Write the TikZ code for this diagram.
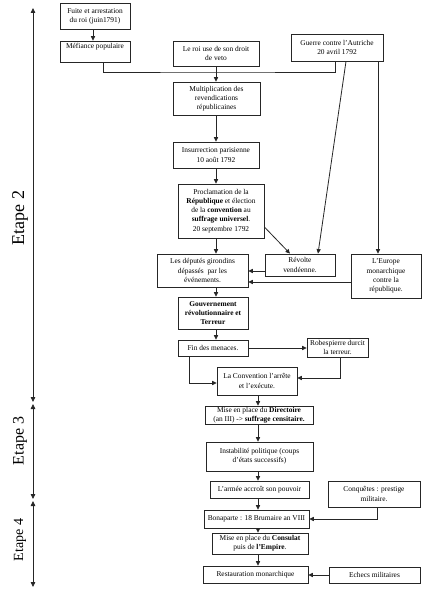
\documentclass[tikz,border=0pt]{standalone}
\usepackage{fontspec}
\setmainfont{Liberation Serif}
\usetikzlibrary{arrows.meta,calc}
\begin{document}
\begin{tikzpicture}[x=1pt,y=-1pt,
  box/.style={draw=black!85, line width=0.8pt, align=center, inner sep=1pt,
    font=\fontsize{7.4}{9.2}\selectfont},
  arr/.style={-{Triangle[length=4.5pt,width=4.2pt]}, line width=0.8pt, draw=black!85},
  ln/.style={line width=0.8pt, draw=black!85},
  axis/.style={{Triangle[length=5pt,width=4.5pt]}-{Triangle[length=5pt,width=4.5pt]}, line width=0.8pt, draw=black!85},
  etape/.style={rotate=90, font=\fontsize{18}{20}\selectfont}]
\useasboundingbox (0,0) rectangle (428,599);
\fill[white] (0,0) rectangle (428,599);

% nodes
\node[box, minimum width=70pt, minimum height=26pt] (fuite) at (95,16) {Fuite et arrestation\\du roi (juin1791)};
\node[box, minimum width=70pt, minimum height=21pt] (mef) at (95,51.5) {Méfiance populaire\\[3pt]\mbox{}};
\node[box, minimum width=86pt, minimum height=25pt] (roi) at (216,53.5) {Le roi use de son droit\\de veto};
\node[box, minimum width=92pt, minimum height=27pt] (guerre) at (337,47.5) {Guerre contre l'Autriche\\20 avril 1792};
\node[box, minimum width=87pt, minimum height=33pt] (mult) at (216.5,98.5) {Multiplication des\\revendications\\républicaines};
\node[box, minimum width=86pt, minimum height=26pt] (ins) at (216,155) {Insurrection parisienne\\10 août 1792};
\node[box, minimum width=86pt, minimum height=54pt] (proc) at (221,211) {Proclamation de la\\\textbf{République} et élection\\de la \textbf{convention} au\\\textbf{suffrage universel}.\\20 septembre 1792};
\node[box, minimum width=91pt, minimum height=33pt] (dep) at (202.5,270.5) {Les députés girondins\\dépassés\ \ par les\\événements.};
\node[box, minimum width=70pt, minimum height=22pt] (rev) at (300,265) {Révolte\\vendéenne.};
\node[box, minimum width=70pt, minimum height=44pt] (eur) at (386,276) {L'Europe\\monarchique\\contre la\\république.};
\node[box, minimum width=70pt, minimum height=32pt] (gouv) at (213,313) {\textbf{Gouvernement}\\\textbf{révolutionnaire et}\\\textbf{Terreur}};
\node[box, minimum width=70pt, minimum height=16pt] (fin) at (213,348) {Fin des menaces.};
\node[box, minimum width=61pt, minimum height=19pt] (robe) at (337.5,347.5) {Robespierre durcit\\la terreur.};
\node[box, minimum width=80pt, minimum height=28pt] (conv) at (257,381) {La Convention l'arrête\\et l'exécute.};
\node[box, minimum width=108pt, minimum height=18pt] (dir) at (259,415) {Mise en place du \textbf{Directoire}\\(an III) -> \textbf{suffrage censitaire.}};
\node[box, minimum width=107pt, minimum height=29pt] (inst) at (259.5,456.5) {Instabilité politique (coups\\d'états successifs)};
\node[box, minimum width=99pt, minimum height=17pt] (armee) at (259.5,489.5) {L'armée accroît son pouvoir};
\node[box, minimum width=92pt, minimum height=26pt] (conq) at (374,494) {Conquêtes : prestige\\militaire.};
\node[box, minimum width=105pt, minimum height=18pt] (bona) at (256.5,519) {Bonaparte : 18 Brumaire an VIII};
\node[box, minimum width=96pt, minimum height=21pt] (cons) at (260,543.5) {Mise en place du \textbf{Consulat}\\puis de \textbf{l'Empire}.};
\node[box, minimum width=105pt, minimum height=17pt] (rest) at (255.5,574.5) {Restauration monarchique};
\node[box, minimum width=91pt, minimum height=16pt] (ech) at (374.5,575) {Echecs militaires};

% helper coordinates
\coordinate (ax) at (216,0);
\coordinate (bx) at (258,0);
\coordinate (j) at (216,72);

% connectors
\draw[arr] (fuite.south -| 93,0) -- (mef.north -| 93,0);
\draw[ln] (mef.south -| 103,0) |- (j) -| (guerre.south -| 335,0);
\draw[arr] (roi.south -| ax) -- (mult.north -| ax);
\draw[arr] (mult.south -| ax) -- (ins.north -| ax);
\draw[arr] (ins.south -| ax) -- (proc.north -| ax);
\draw[arr] (proc.south -| ax) -- (dep.north -| ax);
\draw[arr] (proc.east |- 0,227) -- (rev.north -| 290,0);
\draw[arr] (guerre.south -| 346,0) -- (rev.north -| 318,0);
\draw[arr] (guerre.south -| 378,0) -- (eur.north -| 378,0);
\draw[arr] (rev.west |- 0,271) -- (dep.east |- 0,271);
\draw[arr] (eur.west |- 0,282) -- (dep.east |- 0,282);
\draw[arr] (dep.south -| ax) -- (gouv.north -| ax);
\draw[arr] (gouv.south -| ax) -- (fin.north -| ax);
\draw[arr] (fin.east) -- (fin.east -| robe.west);
\draw[arr] (robe.south -| 340,0) |- (conv.east |- 0,378);
\draw[arr] (fin.south -| 189,0) |- (conv.west |- 0,383);
\draw[arr] (conv.south -| bx) -- (dir.north -| bx);
\draw[arr] (dir.south -| bx) -- (inst.north -| bx);
\draw[arr] (inst.south -| bx) -- (armee.north -| bx);
\draw[arr] (armee.south -| bx) -- (bona.north -| bx);
\draw[arr] (bona.south -| bx) -- (cons.north -| bx);
\draw[arr] (cons.south -| bx) -- (rest.north -| bx);
\draw[arr] (conq.south -| 377,0) |- (bona.east);
\draw[arr] (ech.west) -- (ech.west -| rest.east);

% left axis
\coordinate (a1) at (33,8);
\coordinate (a2) at (33,402);
\coordinate (a3) at (33,404);
\coordinate (a4) at (33,499);
\coordinate (a5) at (33,501);
\coordinate (a6) at (33,587);
\draw[axis] (a1) -- (a2);
\draw[axis] (a3) -- (a4);
\draw[axis] (a5) -- (a6);

\node[etape] (e2) at (20,218) {Etape 2};
\node[etape, font=\fontsize{16}{18}\selectfont] (e3) at (20,441) {Etape 3};
\node[etape, font=\fontsize{14}{16}\selectfont] (e4) at (20,540) {Etape 4};
\end{tikzpicture}
\end{document}
